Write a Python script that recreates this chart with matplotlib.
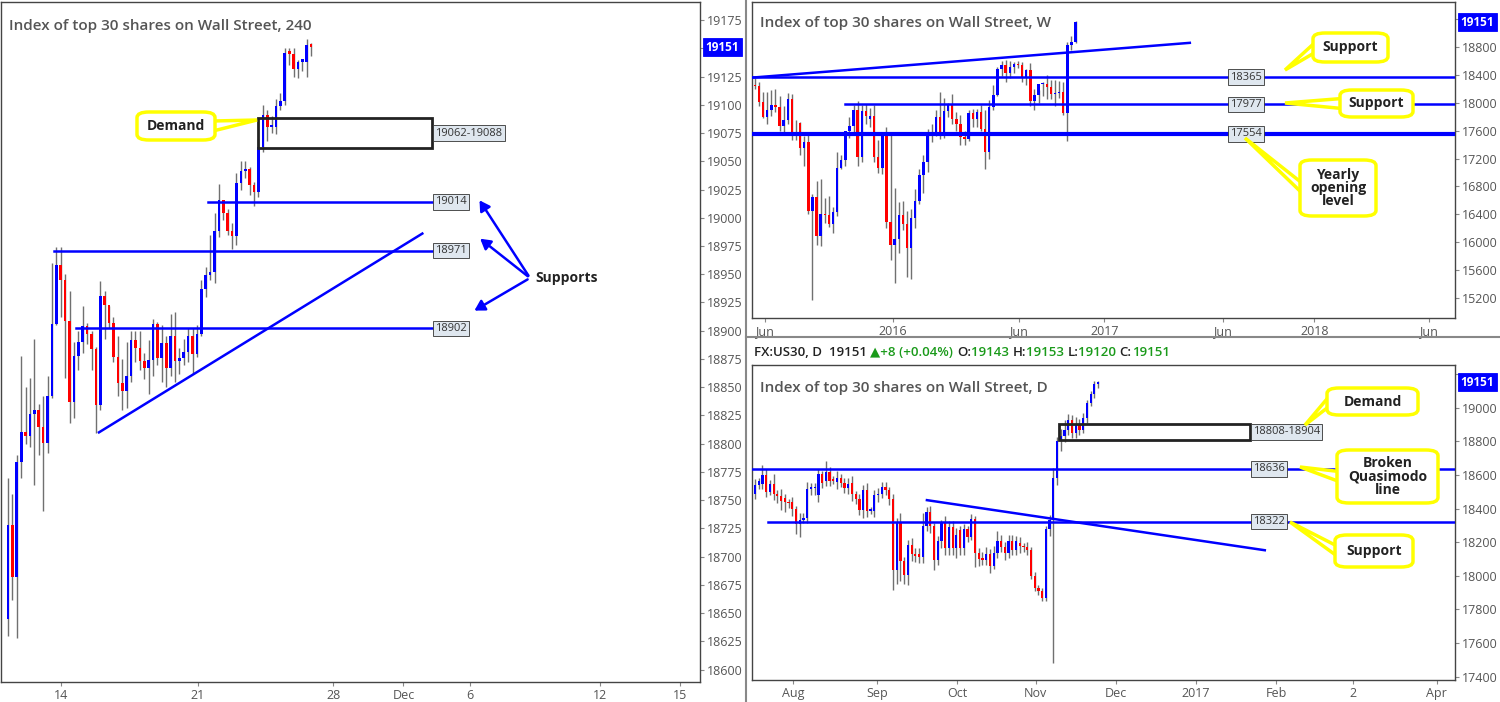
import matplotlib
matplotlib.use("Agg")
import matplotlib.pyplot as plt
from matplotlib.patches import FancyBboxPatch, Polygon, Rectangle
import numpy as np

plt.rcParams['font.family'] = ['Open Sans', 'DejaVu Sans']

# ---------------- 4h data ----------------
h4_open = [18645,18728,18682,18784,18810,18807,18826,18830,18815,18801,18842,18906,18958,18945,18909,18837,18878,18890,18904,18897,18884,18834,18931,18923,18907,18877,18854,18847,18860,18892,18885,18873,18867,18874,18906,18876,18889,18867,18895,18873,18876,18881,18895,18879,18897,18937,18949,18952,18988,19016,19004,18988,18984,19031,19041,19043,19029,19023,19063,19091,19080,19080,19099,19103,19146,19145,19132,19138,19138,19153]
h4_close = [18728,18682,18784,18810,18807,18826,18830,18815,18801,18842,18906,18958,18945,18909,18837,18878,18890,18904,18897,18884,18834,18931,18923,18907,18877,18854,18847,18860,18892,18885,18873,18867,18874,18906,18876,18889,18867,18895,18873,18876,18881,18895,18879,18897,18937,18949,18952,18988,19016,19004,18988,18984,19031,19041,19043,19029,19023,19063,19091,19080,19081,19099,19103,19146,19145,19132,19138,19138,19153,19151]
h4_high = [18770,18755,18790,18878,18850,18858,18893,18835,18842,18860,18960,18974,18974,18950,18935,18890,18900,18922,18907,18900,18886,18944,18935,18922,18912,18895,18875,18890,18900,18900,18900,18880,18892,18910,18908,18905,18895,18915,18917,18885,18893,18902,18902,18905,18945,18956,18985,19004,19030,19015,19008,18995,19040,19050,19050,19045,19032,19070,19100,19095,19090,19105,19110,19150,19150,19150,19140,19140,19158,19155]
h4_low = [18630,18662,18628,18770,18800,18797,18763,18790,18740,18792,18840,18905,18912,18858,18818,18823,18865,18880,18888,18865,18809,18830,18893,18902,18872,18842,18830,18832,18855,18872,18865,18857,18844,18860,18870,18855,18850,18860,18855,18862,18870,18872,18862,18877,18895,18930,18945,18942,18983,18998,18985,18972,18976,19025,19035,19020,19010,19018,19058,19068,19075,19074,19095,19100,19135,19125,19124,19130,19125,19143]
h4_ticks = ['14', '21', '28', 'Dec', '6', '12', '15']
h4_tickpos = [12, 43.2, 74, 90, 105.2, 134.8, 153]
h4_yticks = list(range(18600, 19176, 25))

# ---------------- weekly data ----------------
w_open = [18250,18232,18009,17800,17890,17971,17938,17672,17748,18056,17568,17710,17345,17440,16445,16653,16084,16407,16392,16264,16440,17070,17174,17601,17663,17890,17227,17885,17767,17814,17227,17061,17544,16293,15961,16051,16397,16264,15923,16350,16596,16961,17155,17544,17558,17791,17544,17876,17971,17772,17701,17506,17483,17848,17772,17862,17625,17298,17938,18104,18483,18540,18421,18516,18554,18540,18374,18469,18018,18113,18265,18274,18227,18123,18132,18160,17853,18824,18871]
w_close = [18235,18009,17800,17890,17971,17938,17672,17748,18056,17568,17544,17345,17440,16445,16653,16084,16407,16392,16264,16440,17070,17174,17601,17663,17890,17227,17885,17811,17814,17227,17061,17544,16293,15961,16051,16397,16264,15923,16350,16596,16961,17155,17544,17558,17791,17544,17876,17971,17772,17701,17506,17483,17848,17772,17862,17625,17298,17938,18104,18483,18540,18421,18516,18554,18540,18374,18469,18018,18113,18265,18274,18227,18123,18132,18160,17853,18824,18871,19151]
w_high = [18350,18300,18150,18160,18180,18190,18100,17950,18135,18130,17750,17720,17520,17550,16690,16880,16900,16640,16660,16500,17300,17250,17600,17800,17960,18030,17960,17980,17920,17960,17470,17540,17650,17560,16780,16580,16590,16450,16480,16770,17050,17250,17620,17700,17900,18150,18060,18000,18130,17870,17820,17600,17900,17910,17910,17960,17900,18040,18250,18510,18600,18610,18600,18580,18600,18580,18480,18570,18190,18180,18290,18400,18330,18320,18310,18300,18870,18960,19170]
w_low = [18200,17950,17780,17700,17810,17860,17600,17540,17700,17470,17460,17250,17100,16400,15174,15960,15950,16280,16220,16130,16380,17050,17100,17500,17550,17100,17150,17700,17650,17150,16990,16980,16200,15750,15421,15850,16180,15500,15468,16200,16550,16700,17000,17440,17520,17480,17500,17800,17700,17600,17400,17400,17450,17650,17650,17600,17046,17200,17900,18100,18380,18300,18350,18420,18500,18300,18250,17950,17900,18000,18100,18050,18050,17950,18070,17820,17450,18760,18850]
w_ticks = ['Jun', '2016', 'Jun', '2017', 'Jun', '2018', 'Jun']
w_tickpos = [2.4, 33.6, 64.2, 85, 113.8, 136.1, 163.9]
w_yticks = list(range(15200, 19201, 400))

# ---------------- daily data ----------------
d_open = [18488,18538,18548,18598,18500,18544,18488,18474,18464,18438,18438,18398,18310,18334,18342,18518,18520,18480,18604,18564,18620,18574,18558,18584,18550,18524,18554,18484,18458,18394,18510,18388,18388,18480,18484,18528,18510,18454,18034,18314,18090,18004,18184,18128,18128,18114,18294,18378,18294,18094,18208,18314,18164,18288,18164,18274,18164,18278,18230,18338,18134,18104,18094,18130,18058,18138,18204,18170,18134,18204,18154,18198,18178,18170,18154,18000,17928,17908,17870,18278,18334,18580,18804,18834,18868,18924,18848,18904,18868,18940,19028,19080,19140]
d_close = [18538,18564,18598,18500,18548,18488,18474,18444,18438,18434,18398,18310,18334,18342,18518,18524,18524,18604,18554,18620,18564,18564,18584,18550,18524,18544,18484,18458,18394,18510,18388,18392,18480,18484,18528,18510,18454,18034,18314,18090,18004,18184,18128,18120,18114,18294,18378,18294,18094,18208,18314,18164,18288,18164,18244,18164,18278,18230,18338,18134,18098,18094,18130,18058,18138,18204,18170,18134,18204,18154,18204,18178,18170,18154,18000,17928,17908,17870,18278,18334,18580,18804,18834,18868,18924,18848,18904,18868,18940,19028,19080,19140,19151]
d_up = [40,20,60,40,20,60,20,40,20,20,30,20,40,30,40,30,30,30,20,60,30,20,40,20,30,40,40,20,30,30,40,20,30,40,30,30,20,30,30,60,20,30,40,40,40,80,30,40,20,30,20,40,40,40,40,20,30,20,30,20,30,40,40,30,40,60,40,30,40,40,30,30,20,30,20,20,20,20,20,30,60,20,40,60,40,30,40,30,30,20,20,20,10]
d_dn = [30,20,30,30,20,40,40,50,60,30,40,60,80,20,30,40,40,40,30,30,30,20,40,20,30,40,40,30,30,50,40,20,40,40,20,30,30,120,80,120,50,60,40,40,40,40,30,40,60,30,40,40,40,40,60,40,40,30,20,80,40,30,30,40,20,30,30,40,30,30,30,40,30,30,20,20,20,20,20,40,852,40,60,40,30,30,30,30,20,30,20,20,20]
d_ticks = ['Aug', 'Sep', 'Oct', 'Nov', 'Dec', '2017', 'Feb', '2', 'Apr']
d_tickpos = [10.2, 32.7, 54.2, 75.3, 96.8, 118.2, 139.7, 160.3, 182.8]
d_yticks = list(range(17400, 19201, 200))

LAST = 19151

W, H = 1500, 702
fig = plt.figure(figsize=(15, 7.02), dpi=100)
fig.patch.set_facecolor('white')
BLUE, RED, WICK, TXT = '#0000ff', '#ff0000', '#707070', '#555555'


def fx(px): return px / W
def fy(py): return 1 - py / H


def candles(ax, o, c, hi, lo, width=0.6):
    o = np.array(o, float); c = np.array(c, float)
    x = np.arange(len(o))
    ax.vlines(x, lo, hi, color=WICK, lw=1, zorder=2)
    col = [BLUE if cc >= oo else RED for oo, cc in zip(o, c)]
    bot = np.minimum(o, c)
    ht = np.maximum(np.abs(c - o), (ax.get_ylim()[1] - ax.get_ylim()[0]) * 0.004)
    ax.bar(x, ht, width, bot, color=col, zorder=3, lw=0)


def style(ax, yt, xt, xp, gap):
    ax.set_facecolor('white')
    for s in ax.spines.values():
        s.set_color('#444444'); s.set_linewidth(1)
    ax.yaxis.tick_right()
    ax.set_yticks(yt)
    ax.set_yticklabels(['' if abs(v - LAST) < gap else str(v) for v in yt], fontsize=9, color=TXT)
    ax.set_xticks(xp)
    ax.set_xticklabels(xt, fontsize=9, color=TXT)
    ax.tick_params(length=3, color='#888888', pad=2)


def pricetag(ax, y, text):
    ax.annotate(text, xy=(1.0, y), xycoords=('axes fraction', 'data'), xytext=(4, 0),
                textcoords='offset points', va='center', ha='left', fontsize=8.5, color='white',
                fontweight='bold', bbox=dict(boxstyle='square,pad=0.2', fc=BLUE, ec=BLUE, lw=0.6),
                zorder=10, annotation_clip=False)


def linelabel(ax, x, y, text):
    ax.text(x, y, text, va='center', ha='left', fontsize=8, color='#333333', zorder=10,
            bbox=dict(boxstyle='square,pad=0.2', fc='#dfe7ef', ec='#333333', lw=0.6))


def callout(x0, y0, x1, y1, tx, ty, text, side='left'):
    if side == 'left':
        base = [(x0 + 2, (y0 + y1) / 2 - 5), (x0 + 2, (y0 + y1) / 2 + 5)]
    else:
        base = [(x1 - 2, (y0 + y1) / 2 - 5), (x1 - 2, (y0 + y1) / 2 + 5)]
    pts = [(fx(px), fy(py)) for px, py in [base[0], (tx, ty), base[1]]]
    fig.patches.append(Polygon(pts, closed=True, fc='white', ec='#ffff00', lw=2.5,
                               transform=fig.transFigure, zorder=20))
    fig.patches.append(FancyBboxPatch((fx(x0), fy(y1)), fx(x1 - x0), (y1 - y0) / H,
                                      boxstyle='round,pad=0,rounding_size=0.008',
                                      fc='white', ec='#ffff00', lw=2.5,
                                      transform=fig.transFigure, zorder=21))
    fig.text(fx((x0 + x1) / 2), fy((y0 + y1) / 2), text, ha='center', va='center',
             fontsize=10, fontweight='bold', color='#222222', zorder=22, linespacing=0.95)


# ---------- left 4h ----------
ax1 = fig.add_axes([fx(1), fy(682), fx(699), 680 / H])
ax1.set_xlim(-1.6, 157.5); ax1.set_ylim(18589, 19191)
style(ax1, h4_yticks, h4_ticks, h4_tickpos, 12)
candles(ax1, h4_open, h4_close, h4_high, h4_low)
ax1.text(0.012, 0.975, 'Index of top 30 shares on Wall Street, 240', transform=ax1.transAxes,
         fontsize=11, color=TXT, va='top', fontweight='semibold')
for y, x0 in [(19014, 45.5), (18971, 10.5), (18902, 15.5)]:
    ax1.plot([x0, 96.6], [y, y], color=BLUE, lw=1.8, zorder=4)
    linelabel(ax1, 97.3, y, str(y))
ax1.plot([20.7, 94.3], [18810, 18986], color=BLUE, lw=1.8, zorder=4)
ax1.add_patch(Rectangle((56.8, 19062), 39.8, 26, fill=False, ec='#222222', lw=2, zorder=5))
linelabel(ax1, 97.3, 19075, '19062-19088')
pricetag(ax1, LAST, str(LAST))
callout(137, 112, 215, 140, 257, 120, 'Demand', side='right')
fig.text(fx(567), fy(278), 'Supports', ha='center', va='center', fontsize=10,
         fontweight='bold', color='#222222')
for tx, ty in [(478, 198), (478, 237), (472, 312)]:
    fig.add_artist(matplotlib.patches.FancyArrowPatch(
        (fx(530), fy(278)), (fx(tx), fy(ty)), transform=fig.transFigure,
        arrowstyle='-|>,head_length=6,head_width=3.5', color=BLUE, lw=1.8, zorder=15))

# separators
fig.add_artist(matplotlib.lines.Line2D([fx(746), fx(746)], [0, 1], color='#888888', lw=1.5))
fig.add_artist(matplotlib.lines.Line2D([fx(746), 1], [fy(337), fy(337)], color='#888888', lw=1.5))

# ---------- weekly ----------
ax2 = fig.add_axes([fx(752), fy(318), fx(703), 316 / H])
ax2.set_xlim(-0.7, 170.3); ax2.set_ylim(14916, 19442)
style(ax2, w_yticks, w_ticks, w_tickpos, 120)
candles(ax2, w_open, w_close, w_high, w_low)
ax2.text(0.012, 0.955, 'Index of top 30 shares on Wall Street, W', transform=ax2.transAxes,
         fontsize=11, color=TXT, va='top', fontweight='semibold')
ax2.plot([-0.7, 105.8], [18359, 18857], color=BLUE, lw=1.8, zorder=4)
ax2.plot([-0.7, 170.3], [18365, 18365], color=BLUE, lw=1.8, zorder=4)
ax2.plot([21.9, 170.3], [17977, 17977], color=BLUE, lw=1.8, zorder=4)
ax2.plot([-0.7, 170.3], [17554, 17554], color=BLUE, lw=3, zorder=4)
for y in [18365, 17977, 17554]:
    linelabel(ax2, 115.6, y, str(y))
pricetag(ax2, LAST, str(LAST))
callout(1313, 33, 1388, 62, 1285, 70, 'Support')
callout(1340, 90, 1413, 117, 1285, 103, 'Support')
callout(1300, 160, 1376, 216, 1245, 138, 'Yearly\nopening\nlevel')

# ---------- header ----------
parts = [('FX:US30, D  19151 ', '#222222'), ('▲+8 (+0.04%) ', '#1a9a1a'), ('O:', '#222222'),
         ('19143 ', '#1a9a1a'), ('H:', '#222222'), ('19153 ', '#1a9a1a'), ('L:', '#222222'),
         ('19120 ', '#1a9a1a'), ('C:', '#222222'), ('19151', '#1a9a1a')]
xcur = 754
rend = fig.canvas.get_renderer()
for t, c in parts:
    tt = fig.text(fx(xcur), fy(352), t, fontsize=9.5, color=c, va='center', ha='left',
                  fontweight='semibold')
    xcur += tt.get_window_extent(rend).width

# ---------- daily ----------
ax3 = fig.add_axes([fx(752), fy(680), fx(703), 315 / H])
ax3.set_xlim(-0.8, 187.7); ax3.set_ylim(17380, 19254)
style(ax3, d_yticks, d_ticks, d_tickpos, 60)
d_high = list(np.maximum(d_open, d_close) + np.array(d_up))
d_low = list(np.minimum(d_open, d_close) - np.array(d_dn))
candles(ax3, d_open, d_close, d_high, d_low)
ax3.text(0.012, 0.95, 'Index of top 30 shares on Wall Street, D', transform=ax3.transAxes,
         fontsize=11, color=TXT, va='top', fontweight='semibold')
ax3.plot([-0.8, 187.7], [18636, 18636], color=BLUE, lw=1.8, zorder=4)
ax3.plot([3.4, 187.7], [18322, 18322], color=BLUE, lw=1.8, zorder=4)
ax3.plot([46.1, 136.7], [18450, 18152], color=BLUE, lw=1.8, zorder=4)
ax3.add_patch(Rectangle((81.5, 18808), 51.2, 96, fill=False, ec='#222222', lw=2, zorder=5))
linelabel(ax3, 133.5, 18856, '18808-18904')
linelabel(ax3, 133.5, 18636, '18636')
linelabel(ax3, 133.5, 18322, '18322')
pricetag(ax3, LAST, str(LAST))
callout(1327, 388, 1418, 415, 1305, 425, 'Demand')
callout(1337, 450, 1438, 503, 1300, 467, 'Broken\nQuasimodo\nline')
callout(1335, 535, 1413, 567, 1290, 522, 'Support')

fig.savefig('out.png', dpi=100, facecolor='white')
